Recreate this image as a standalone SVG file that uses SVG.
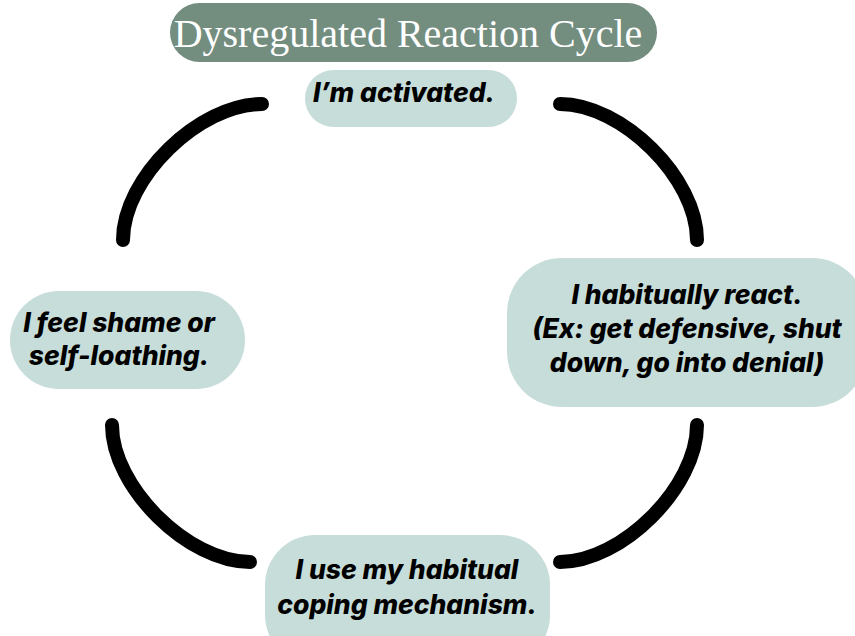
<svg xmlns="http://www.w3.org/2000/svg" width="855" height="636" viewBox="0 0 855 636">
<style>
.node{fill:#c7ddd9}
.lbl{font-family:Inter,"Liberation Sans",sans-serif;font-weight:800;font-style:italic;font-size:26.5px;fill:#000;text-anchor:middle}
.title{font-family:"Liberation Serif",serif;font-size:40px;fill:#fff;text-anchor:middle}
.arc{fill:none;stroke:#000;stroke-width:14;stroke-linecap:round}
</style>
<rect width="855" height="636" fill="#fff"/>
<g id="title">
<rect x="170" y="3" width="487" height="59" rx="29.5" fill="#738d7f"/>
<text class="title" x="408" y="47">Dysregulated Reaction Cycle</text>
</g>
<g id="connectors">
<path class="arc" d="M123,240 C123,178 199,104 262,104"/>
<path class="arc" d="M560,104 C622,104 697,178 697,240"/>
<path class="arc" d="M697,425 C697,487 622,562 560,562"/>
<path class="arc" d="M250,562 C188,562 112,487 112,425"/>
</g>
<g id="n-activated">
<rect class="node" x="305" y="70" width="212" height="57" rx="28.5"/>
<text class="lbl" x="404" y="102">I’m activated.</text>
</g>
<g id="n-react">
<rect class="node" x="507" y="258" width="360" height="149" rx="55"/>
<text class="lbl" x="687" y="304">I habitually react.</text>
<text class="lbl" x="687" y="338">(Ex: get defensive, shut</text>
<text class="lbl" x="687" y="372">down, go into denial)</text>
</g>
<g id="n-coping">
<rect class="node" x="265" y="535" width="285" height="130" rx="50"/>
<text class="lbl" x="407" y="579">I use my habitual</text>
<text class="lbl" x="407" y="614">coping mechanism.</text>
</g>
<g id="n-shame">
<rect class="node" x="10" y="291" width="235" height="98" rx="49"/>
<text class="lbl" x="119" y="332">I feel shame or</text>
<text class="lbl" x="119" y="365">self-loathing.</text>
</g>
</svg>
